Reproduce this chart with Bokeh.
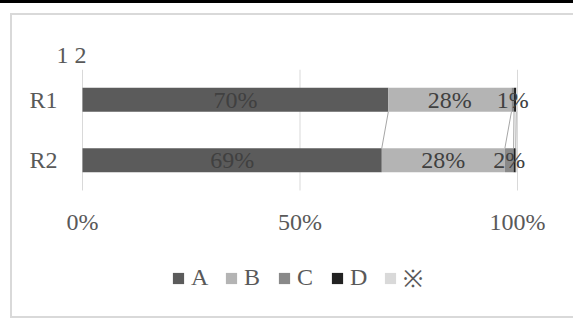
from bokeh.plotting import figure
from bokeh.models import (ColumnDataSource, Range1d, Legend, LegendItem, LabelSet)
from bokeh.core.properties import value
from bokeh.embed import file_html
from bokeh.resources import INLINE

# ---- data ----
categories = ["R1", "R2"]
series = ["A", "B", "C", "D", "※"]
val_A = [70.3, 68.8]
val_B = [28.3, 28.3]
val_C = [0.6, 2.0]
val_D = [0.5, 0.5]
val_X = [0.3, 0.4]
x_ticks = [0, 0.5, 1]
x_tick_labels = ["0%", "50%", "100%"]
labelled_series = ["A", "B", "C"]

# ---- styles ----
colors = ["#5b5b5b", "#b4b4b4", "#898989", "#222222", "#d9d9d9"]
FONT = "Liberation Serif"
FS = "24px"
TXT = "#595959"
GRID = "#d9d9d9"

n = len(categories)
ypos = [n - 0.5 - i for i in range(n)]          # category slots, first on top
vals = [val_A, val_B, val_C, val_D, val_X]
keys = ["s%d" % i for i in range(len(series))]
data = {"y": ypos}
for k, v in zip(keys, vals):
    data[k] = [x / 100.0 for x in v]
src = ColumnDataSource(data)

chart_bg = {
    "background-color": "white",
    "background-image": ", ".join(["linear-gradient(#000,#000)"] +
                                  ["linear-gradient(%s,%s)" % (GRID, GRID)] * 3),
    "background-size": "573px 3px, 563px 2px, 2px 305px, 563px 2px",
    "background-position": "0px 0px, 10px 13px, 10px 13px, 10px 316px",
    "background-repeat": "no-repeat",
}

# plot area spans the canvas; value 0..1 maps to x = 82..517 px
p = figure(width=573, height=318,
           x_range=Range1d(-0.1885, 1.1287), y_range=Range1d(-2.116, n),
           output_backend="svg", toolbar_location=None,
           x_axis_location=None, y_axis_location=None,
           min_border_left=0, min_border_right=0,
           min_border_top=69, min_border_bottom=0,
           outline_line_color=None, styles=chart_bg)
p.background_fill_color = None
p.border_fill_color = None
p.xgrid.grid_line_color = None
p.ygrid.grid_line_color = None

# vertical gridlines over the category area
p.segment(x0=x_ticks, x1=x_ticks, y0=[0] * len(x_ticks), y1=[n] * len(x_ticks),
          line_color=GRID, line_width=1)

renderers = p.hbar_stack(keys, y="y", height=0.4, color=colors,
                         line_color=None, source=src)

# cumulative positions
cums = []
for i in range(n):
    c, acc = [], 0.0
    for v in vals:
        acc += v[i] / 100.0
        c.append(acc)
    cums.append(c)

# series lines between bars
m = len(series) - 1
p.segment(x0=[cums[0][k] for k in range(m)], y0=[ypos[0] - 0.2] * m,
          x1=[cums[1][k] for k in range(m)], y1=[ypos[1] + 0.2] * m,
          line_color="#a6a6a6", line_width=1)

# data labels
lx, ly, lt = [], [], []
for si, s in enumerate(series):
    if s not in labelled_series:
        continue
    for i in range(n):
        end = cums[i][si]
        start = end - vals[si][i] / 100.0
        lx.append((start + end) / 2)
        ly.append(ypos[i])
        lt.append("%d%%" % round(vals[si][i]))
p.add_layout(LabelSet(x="x", y="y", text="text",
                      source=ColumnDataSource(dict(x=lx, y=ly, text=lt)),
                      text_align="center", text_baseline="middle",
                      text_font=value(FONT), text_font_size=FS,
                      text_color="#404040"))

# value-axis tick labels
p.add_layout(LabelSet(x="x", y="y", text="text",
                      source=ColumnDataSource(dict(x=x_ticks,
                                                   y=[-0.529] * len(x_ticks),
                                                   text=x_tick_labels)),
                      text_align="center", text_baseline="middle",
                      text_font=value(FONT), text_font_size=FS,
                      text_color=TXT))

# category-axis labels
p.add_layout(LabelSet(x="x", y="y", text="text",
                      source=ColumnDataSource(dict(x=[-0.0575] * n, y=ypos,
                                                   text=categories)),
                      text_align="right", text_baseline="middle",
                      text_font=value(FONT), text_font_size=FS,
                      text_color=TXT))

# title
p.title.text = "1 2"
p.title.text_font = FONT
p.title.text_font_size = FS
p.title.text_font_style = "normal"
p.title.text_color = TXT
p.title.align = "left"
p.title.offset = 56
p.title.standoff = 4

# legend
items = [LegendItem(label=s, renderers=[r]) for s, r in zip(series, renderers)]
legend = Legend(items=items, orientation="horizontal", location=(171, 24),
                label_text_font=FONT, label_text_font_size=FS,
                label_text_color=TXT, glyph_width=14, glyph_height=14,
                label_standoff=6, spacing=13, padding=0, margin=0,
                border_line_color=None, background_fill_alpha=0)
p.add_layout(legend, "center")

open("out.html", "w").write(file_html(p, INLINE))
